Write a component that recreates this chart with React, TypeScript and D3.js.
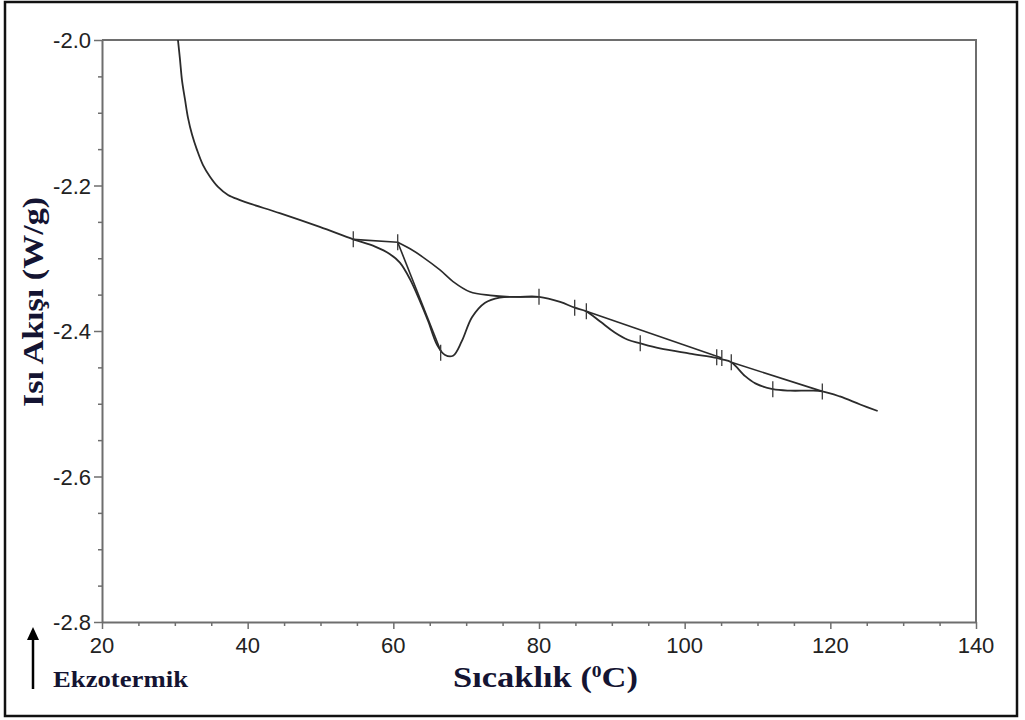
import React, { useEffect, useRef } from "react";
import * as d3 from "d3";

// DSC trace (temperature °C, heat flow W/g)
const dscT = [30.43, 30.71, 30.98, 31.4, 31.81, 32.36, 33.04, 33.87, 34.83, 35.93, 37.3, 38.95, 40.32, 44.4, 49.9, 54.5, 57.5, 59.5, 60.9, 62.3, 63.7, 64.8, 66.0, 67.1, 68.2, 69.4, 70.8, 72.6, 74.6, 77.4, 80.0, 82.9, 84.9, 86.5, 88.4, 90.4, 92.2, 93.9, 96.6, 100.7, 104.4, 105.1, 106.4, 108.3, 109.7, 112.1, 114.5, 117.2, 118.9, 121.3, 124.1, 126.5];
const dscY = [-2.0, -2.027, -2.055, -2.082, -2.107, -2.13, -2.151, -2.172, -2.188, -2.202, -2.213, -2.22, -2.225, -2.238, -2.257, -2.274, -2.284, -2.294, -2.306, -2.329, -2.36, -2.387, -2.419, -2.433, -2.434, -2.414, -2.381, -2.361, -2.354, -2.353, -2.353, -2.36, -2.368, -2.373, -2.387, -2.402, -2.412, -2.417, -2.424, -2.431, -2.437, -2.439, -2.443, -2.462, -2.472, -2.48, -2.482, -2.482, -2.483, -2.49, -2.501, -2.51];

// sigmoidal baseline under the first peak
const sigT = [60.6, 62.3, 64.0, 66.4, 68.2, 70.5, 73.3, 76.0, 80.0];
const sigY = [-2.278, -2.287, -2.298, -2.316, -2.332, -2.346, -2.351, -2.353, -2.353];

// straight construction lines [x1, y1, x2, y2]
const lineSegs = [
  [54.5, -2.274, 60.6, -2.278],
  [60.6, -2.278, 66.6, -2.43],
  [86.5, -2.373, 105.1, -2.437],
  [106.4, -2.443, 118.9, -2.483],
];

// analysis markers
const markT = [54.5, 60.6, 66.5, 80.0, 84.9, 86.5, 93.9, 104.4, 105.1, 106.4, 112.1, 118.9];
const markY = [-2.274, -2.278, -2.43, -2.353, -2.368, -2.373, -2.417, -2.436, -2.437, -2.443, -2.48, -2.483];

const xTicks = [20, 40, 60, 80, 100, 120, 140];
const yTicks = [-2.0, -2.2, -2.4, -2.6, -2.8];

export default function App() {
  const ref = useRef<SVGSVGElement>(null);

  useEffect(() => {
    const svg = d3.select(ref.current);
    svg.selectAll("*").remove();

    const left = 102, right = 976, top = 40, bottom = 622;
    const x = d3.scaleLinear().domain([20, 140]).range([left, right]);
    const y = d3.scaleLinear().domain([-2.8, -2.0]).range([bottom, top]);
    const axisColor = "#6e6e6e";
    const sans = "Liberation Sans, Arial, sans-serif";

    // outer frame
    svg.append("rect")
      .attr("x", 5).attr("y", 2).attr("width", 1012).attr("height", 714)
      .attr("fill", "white").attr("stroke", "#111").attr("stroke-width", 2.5);

    // plot box top/right
    svg.append("path")
      .attr("d", `M${left},${top}H${right}V${bottom}`)
      .attr("fill", "none").attr("stroke", axisColor).attr("stroke-width", 2);

    const xAxis = svg.append("g").attr("transform", `translate(0,${bottom})`)
      .call(d3.axisBottom(x).tickValues(d3.range(20, 141, 5)).tickSize(4).tickFormat(() => "").tickSizeOuter(0));
    xAxis.select(".domain").attr("stroke", axisColor).attr("stroke-width", 2);
    xAxis.selectAll(".tick line").attr("stroke", axisColor).attr("stroke-width", 1.5)
      .attr("y2", (d: any) => (d % 20 === 0 ? 7 : 4));
    svg.append("g").selectAll("text").data(xTicks).join("text")
      .attr("x", d => x(d)).attr("y", bottom + 31)
      .attr("text-anchor", "middle")
      .style("font-family", sans)
      .style("font-size", "22px").attr("fill", "#222")
      .text(d => d);

    const yAxis = svg.append("g").attr("transform", `translate(${left},0)`)
      .call(d3.axisLeft(y).tickValues(d3.range(0, 17).map(i => -2.8 + i * 0.05)).tickSize(4).tickFormat(() => "").tickSizeOuter(0));
    yAxis.select(".domain").attr("stroke", axisColor).attr("stroke-width", 2);
    yAxis.selectAll(".tick line").attr("stroke", axisColor).attr("stroke-width", 1.5)
      .attr("x2", (_d: any, i: number) => (i % 4 === 0 ? -8 : -4));
    svg.append("g").selectAll("text").data(yTicks).join("text")
      .attr("x", left - 11).attr("y", d => y(d) + 8)
      .attr("text-anchor", "end")
      .style("font-family", sans)
      .style("font-size", "22px").attr("fill", "#222")
      .text(d => d.toFixed(1));

    const line = d3.line<number>()
      .x((_d, i) => x(dscT[i])).y(d => y(d))
      .curve(d3.curveCatmullRom.alpha(0.5));

    svg.append("path").datum(dscY)
      .attr("d", line).attr("fill", "none")
      .attr("stroke", "#2b2b2b").attr("stroke-width", 1.8);

    const sigLine = d3.line<number>()
      .x((_d, i) => x(sigT[i])).y(d => y(d))
      .curve(d3.curveCatmullRom.alpha(0.5));
    svg.append("path").datum(sigY)
      .attr("d", sigLine).attr("fill", "none")
      .attr("stroke", "#2b2b2b").attr("stroke-width", 1.6);

    svg.append("g").selectAll("line").data(lineSegs).join("line")
      .attr("x1", d => x(d[0])).attr("y1", d => y(d[1]))
      .attr("x2", d => x(d[2])).attr("y2", d => y(d[3]))
      .attr("stroke", "#2b2b2b").attr("stroke-width", 1.6);

    svg.append("g").selectAll("line").data(markT).join("line")
      .attr("x1", d => x(d)).attr("x2", d => x(d))
      .attr("y1", (_d, i) => y(markY[i]) - 8).attr("y2", (_d, i) => y(markY[i]) + 8)
      .attr("stroke", "#3a3a3a").attr("stroke-width", 1.3);

    const serif = "Liberation Serif, Times New Roman, serif";
    svg.append("text")
      .attr("transform", "translate(43,302) rotate(-90)")
      .attr("text-anchor", "middle")
      .attr("textLength", 210).attr("lengthAdjust", "spacingAndGlyphs")
      .style("font-family", serif).style("font-weight", "bold").style("font-size", "29px")
      .attr("fill", "#141432")
      .text("Isı Akışı (W/g)");

    const xl = svg.append("text")
      .attr("x", 453).attr("y", 687)
      .attr("textLength", 185).attr("lengthAdjust", "spacingAndGlyphs")
      .style("font-family", serif).style("font-weight", "bold").style("font-size", "30px")
      .attr("fill", "#141432");
    xl.append("tspan").text("Sıcaklık (");
    xl.append("tspan").attr("dy", -10).style("font-size", "17px").text("0");
    xl.append("tspan").attr("dy", 10).text("C)");

    svg.append("text")
      .attr("x", 53).attr("y", 687)
      .attr("textLength", 135).attr("lengthAdjust", "spacingAndGlyphs")
      .style("font-family", serif).style("font-weight", "bold").style("font-size", "23px")
      .attr("fill", "#141432")
      .text("Ekzotermik");

    // exotherm arrow
    svg.append("line")
      .attr("x1", 33).attr("x2", 33).attr("y1", 689).attr("y2", 638)
      .attr("stroke", "#000").attr("stroke-width", 2.5);
    svg.append("path")
      .attr("d", "M33,627 L27,640 L39,640 Z").attr("fill", "#000");
  }, []);

  return (
    <svg ref={ref} width={1025} height={720}
      style={{ position: "absolute", left: 0, top: 0, background: "white" }} />
  );
}
